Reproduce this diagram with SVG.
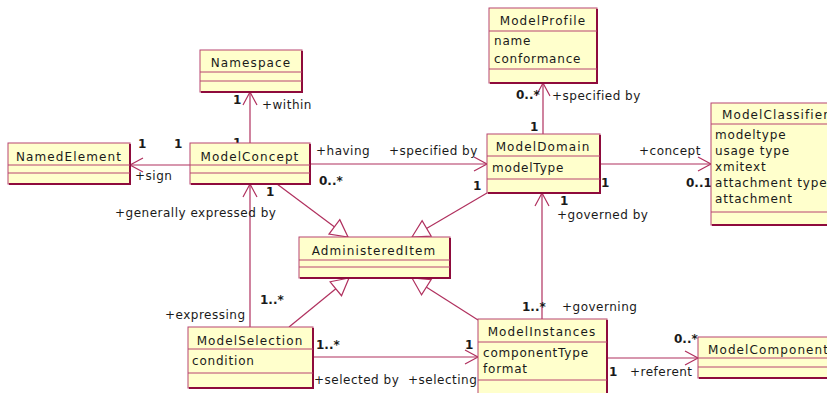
<svg xmlns="http://www.w3.org/2000/svg" width="827" height="393" viewBox="0 0 827 393">
<style>
.box{fill:#FFFFCC;stroke:#B84470;stroke-width:1}
.sh{fill:none;stroke:#8E0B3C;stroke-width:2}
.dv{stroke:#B84470;stroke-width:1}
.t{font-family:"DejaVu Sans",sans-serif;font-size:12px;letter-spacing:1.1px;fill:#1a1a1a}
.a{font-family:"DejaVu Sans",sans-serif;font-size:12px;letter-spacing:0.8px;fill:#1a1a1a}
.l{font-family:"DejaVu Sans",sans-serif;font-size:12px;letter-spacing:0.5px;fill:#1a1a1a}
.m{font-family:"DejaVu Sans",sans-serif;font-size:12px;font-weight:bold;fill:#1a1a1a}
.c{fill:none;stroke:#B0305E;stroke-width:1.2}
</style>
<defs>
<marker id="open" markerUnits="userSpaceOnUse" markerWidth="20" markerHeight="20" refX="14" refY="8" orient="auto" overflow="visible">
<path d="M1,1 L14,8 L1,15" fill="none" stroke="#B0305E" stroke-width="1.2"/>
</marker>
<marker id="gen" markerUnits="userSpaceOnUse" markerWidth="24" markerHeight="24" refX="18" refY="10" orient="auto" overflow="visible">
<path d="M1,1 L18,10 L1,19 Z" fill="#FFFFFF" stroke="#B0305E" stroke-width="1.2"/>
</marker>
</defs>

<g id="connectors">
<line class="c" x1="250" y1="143" x2="250" y2="92" marker-end="url(#open)"/>
<line class="c" x1="190" y1="165" x2="130" y2="165" marker-end="url(#open)"/>
<line class="c" x1="310" y1="164" x2="487" y2="164" marker-end="url(#open)"/>
<line class="c" x1="543" y1="134" x2="543" y2="83" marker-end="url(#open)"/>
<line class="c" x1="600" y1="164" x2="711" y2="164" marker-end="url(#open)"/>
<line class="c" x1="250" y1="327" x2="250" y2="184" marker-end="url(#open)"/>
<line class="c" x1="313" y1="357" x2="478" y2="357" marker-end="url(#open)"/>
<line class="c" x1="542" y1="319" x2="542" y2="193" marker-end="url(#open)"/>
<line class="c" x1="607" y1="358" x2="698" y2="358" marker-end="url(#open)"/>
<line class="c" x1="277" y1="184" x2="348" y2="237" marker-end="url(#gen)"/>
<line class="c" x1="487" y1="193" x2="412" y2="237" marker-end="url(#gen)"/>
<line class="c" x1="289" y1="327" x2="349" y2="278" marker-end="url(#gen)"/>
<line class="c" x1="478" y1="320" x2="412" y2="278" marker-end="url(#gen)"/>

<text class="m" x="233" y="104">1</text>
<text class="l" x="262" y="109">+within</text>
<text class="m" x="233" y="147">1</text>
<text class="m" x="138" y="148">1</text>
<text class="m" x="174" y="148">1</text>
<text class="l" x="135" y="180">+sign</text>
<text class="l" x="316" y="155">+having</text>
<text class="l" x="389" y="155">+specified by</text>
<text class="m" x="319" y="185">0..*</text>
<text class="m" x="473" y="190">1</text>
<text class="m" x="516" y="99">0..*</text>
<text class="l" x="552" y="100">+specified by</text>
<text class="m" x="530" y="131">1</text>
<text class="l" x="639" y="155">+concept</text>
<text class="m" x="601" y="187">1</text>
<text class="m" x="686" y="187">0..1</text>
<text class="l" x="115" y="217">+generally expressed by</text>
<text class="m" x="266" y="196">1</text>
<text class="l" x="165" y="319">+expressing</text>
<text class="m" x="260" y="304">1..*</text>
<text class="m" x="316" y="349">1..*</text>
<text class="m" x="465" y="349">1</text>
<text class="l" x="314" y="384">+selected by</text>
<text class="l" x="408" y="384">+selecting</text>
<text class="m" x="560" y="205">1</text>
<text class="l" x="557" y="219">+governed by</text>
<text class="m" x="522" y="311">1..*</text>
<text class="l" x="562" y="311">+governing</text>
<text class="m" x="674" y="343">0..*</text>
<text class="m" x="609" y="376">1</text>
<text class="l" x="630" y="376">+referent</text>
</g>

<g id="Namespace">
<rect class="box" x="200" y="50" width="102" height="42"/>
<path class="sh" d="M201,92 H302 V51"/>
<line class="dv" x1="200" y1="72" x2="302" y2="72"/>
<line class="dv" x1="200" y1="81" x2="302" y2="81"/>
<text class="t" x="251" y="67" text-anchor="middle">Namespace</text>
</g>

<g id="NamedElement">
<rect class="box" x="8" y="143" width="122" height="41"/>
<path class="sh" d="M9,184 H130 V144"/>
<line class="dv" x1="8" y1="165" x2="130" y2="165"/>
<line class="dv" x1="8" y1="173" x2="130" y2="173"/>
<text class="t" x="69" y="161" text-anchor="middle">NamedElement</text>
</g>

<g id="ModelConcept">
<rect class="box" x="190" y="143" width="120" height="41"/>
<path class="sh" d="M191,184 H310 V144"/>
<line class="dv" x1="190" y1="165" x2="310" y2="165"/>
<line class="dv" x1="190" y1="173" x2="310" y2="173"/>
<text class="t" x="250" y="161" text-anchor="middle">ModelConcept</text>
</g>

<g id="ModelProfile">
<rect class="box" x="489" y="8" width="108" height="75"/>
<path class="sh" d="M490,83 H597 V9"/>
<line class="dv" x1="489" y1="31" x2="597" y2="31"/>
<line class="dv" x1="489" y1="69" x2="597" y2="69"/>
<text class="t" x="543" y="25" text-anchor="middle">ModelProfile</text>
<text class="a" x="494" y="45">name</text>
<text class="a" x="494" y="63">conformance</text>
</g>

<g id="ModelDomain">
<rect class="box" x="487" y="134" width="113" height="59"/>
<path class="sh" d="M488,193 H600 V135"/>
<line class="dv" x1="487" y1="156" x2="600" y2="156"/>
<line class="dv" x1="487" y1="179" x2="600" y2="179"/>
<text class="t" x="543" y="151" text-anchor="middle">ModelDomain</text>
<text class="a" x="492" y="172">modelType</text>
</g>

<g id="ModelClassifier">
<rect class="box" x="711" y="103" width="130" height="122"/>
<path class="sh" d="M712,225 H841"/>
<line class="dv" x1="711" y1="124" x2="841" y2="124"/>
<line class="dv" x1="711" y1="212" x2="841" y2="212"/>
<text class="t" x="722" y="119">ModelClassifier</text>
<text class="a" x="715" y="139">modeltype</text>
<text class="a" x="715" y="155">usage type</text>
<text class="a" x="715" y="171">xmitext</text>
<text class="a" x="715" y="187">attachment type</text>
<text class="a" x="715" y="203">attachment</text>
</g>

<g id="AdministeredItem">
<rect class="box" x="299" y="237" width="151" height="41"/>
<path class="sh" d="M300,278 H450 V238"/>
<line class="dv" x1="299" y1="260" x2="450" y2="260"/>
<line class="dv" x1="299" y1="267" x2="450" y2="267"/>
<text class="t" x="374" y="255" text-anchor="middle">AdministeredItem</text>
</g>

<g id="ModelSelection">
<rect class="box" x="188" y="327" width="125" height="61"/>
<path class="sh" d="M189,388 H313 V328"/>
<line class="dv" x1="188" y1="349" x2="313" y2="349"/>
<line class="dv" x1="188" y1="373" x2="313" y2="373"/>
<text class="t" x="250" y="345" text-anchor="middle">ModelSelection</text>
<text class="a" x="192" y="365">condition</text>
</g>

<g id="ModelInstances">
<rect class="box" x="478" y="319" width="129" height="80"/>
<path class="sh" d="M607,320 V399"/>
<line class="dv" x1="478" y1="342" x2="607" y2="342"/>
<line class="dv" x1="478" y1="380" x2="607" y2="380"/>
<text class="t" x="542" y="336" text-anchor="middle">ModelInstances</text>
<text class="a" x="483" y="357">componentType</text>
<text class="a" x="483" y="373">format</text>
</g>

<g id="ModelComponent">
<rect class="box" x="698" y="337" width="140" height="41"/>
<path class="sh" d="M699,378 H838"/>
<line class="dv" x1="698" y1="358" x2="838" y2="358"/>
<line class="dv" x1="698" y1="367" x2="838" y2="367"/>
<text class="t" x="708" y="354">ModelComponent</text>
</g>
</svg>
